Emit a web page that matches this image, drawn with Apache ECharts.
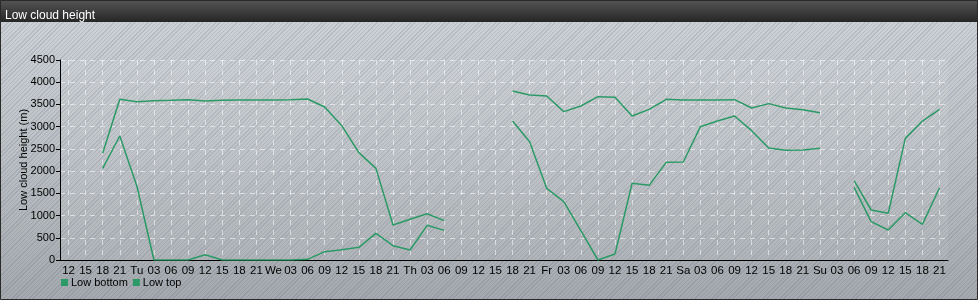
<!DOCTYPE html>
<html>
<head>
<meta charset="utf-8">
<script src="https://cdn.jsdelivr.net/npm/echarts@6/dist/echarts.min.js"></script>
<style>
html,body{margin:0;padding:0;}
#chart{width:978px;height:300px;
background:
 repeating-linear-gradient(135deg, rgba(110,125,150,0.22) 0px, rgba(110,125,150,0.22) 1px, rgba(255,255,255,0.06) 1px, rgba(255,255,255,0.06) 3px),
 linear-gradient(to bottom, #cdd1d5 0%, #b9bdc1 50%, #a0a4a8 100%);}
</style>
</head>
<body>
<div id="chart"></div>
<script>
var categories = ['12','15','18','21','Tu','03','06','09','12','15','18','21','We','03','06','09','12','15','18','21','Th','03','06','09','12','15','18','21','Fr','03','06','09','12','15','18','21','Sa','03','06','09','12','15','18','21','Su','03','06','09','12','15','18','21'];
var lowBottom = [null,null,2062,2790,1665,0,0,0,120,0,0,0,0,0,15,187,232,285,600,322,225,780,667,null,null,null,3127,2662,1612,1312,660,0,135,1725,1680,2197,2205,3000,3127,3240,2910,2520,2467,2475,2512,null,1635,862,675,1065,802,1620];
var lowTop = [null,null,2400,3615,3562,3585,3592,3608,3577,3592,3600,3600,3600,3605,3622,3442,3022,2415,2062,787,915,1042,885,null,null,null,3802,3712,3690,3338,3465,3675,3660,3240,3390,3615,3600,3600,3600,3607,3420,3518,3420,3383,3315,null,1785,1125,1050,2737,3127,3390];
var yTicks = [0,500,1000,1500,2000,2500,3000,3500,4000,4500];

var chart = echarts.init(document.getElementById('chart'), null, {renderer:'canvas'});
var lineColor = '#2b9a66';
chart.setOption({
  animation:false,
  backgroundColor:'transparent',
  textStyle:{fontFamily:'Liberation Sans, Arial, sans-serif'},
  graphic:[
    {type:'rect', z:-1, shape:{x:0,y:0,width:978,height:22},
     style:{fill:new echarts.graphic.LinearGradient(0,0,0,1,[{offset:0,color:'#555555'},{offset:1,color:'#262626'}])}},
    {type:'rect', z:100, shape:{x:0.5,y:0.5,width:977,height:299}, style:{fill:null, stroke:'#2a2a2a', lineWidth:1}}
  ],
  title:{text:'Low cloud height', left:0, top:5, textStyle:{color:'#ffffff', fontSize:12, fontWeight:'normal', fontFamily:'Liberation Sans, Arial, sans-serif'}},
  legend:{left:56, top:272, itemWidth:7, itemHeight:7, itemGap:5, icon:'rect',
    textStyle:{fontSize:11, color:'#000', padding:[0,0,0,-2]},
    data:['Low bottom','Low top']},
  grid:{left:60, right:30, top:60, bottom:40, show:true, backgroundColor:'rgba(255,255,255,0.07)', borderWidth:0},
  xAxis:{type:'category', data:categories, boundaryGap:true,
    axisLine:{lineStyle:{color:'#000', width:1}},
    axisTick:{alignWithLabel:true, length:4, lineStyle:{color:'#000'}},
    axisLabel:{interval:0, color:'#000', fontSize:11.5, margin:5},
    splitLine:{show:true, alignWithLabel:true, interval:0, lineStyle:{color:'rgba(255,255,255,0.55)', type:[5,5], width:1}}
  },
  yAxis:{type:'value', min:0, max:4500, interval:500,
    name:'Low cloud height (m)', nameLocation:'middle', nameGap:31, nameRotate:90, nameMoveOverlap:false,
    nameTextStyle:{color:'#000', fontSize:11},
    axisLine:{show:true, lineStyle:{color:'#000'}},
    axisTick:{show:true, length:4, lineStyle:{color:'#000'}},
    axisLabel:{color:'#000', fontSize:11, margin:5, formatter:function(v){return String(v);}},
    splitLine:{show:true, lineStyle:{color:'rgba(255,255,255,0.55)', type:[5,5], width:1}}
  },
  series:[
    {name:'Low bottom', type:'line', data:lowBottom, symbol:'none', connectNulls:false,
     itemStyle:{color:lineColor}, lineStyle:{color:lineColor, width:1.5}},
    {name:'Low top', type:'line', data:lowTop, symbol:'none', connectNulls:false,
     itemStyle:{color:lineColor}, lineStyle:{color:lineColor, width:1.5}}
  ]
});
</script>
</body>
</html>
